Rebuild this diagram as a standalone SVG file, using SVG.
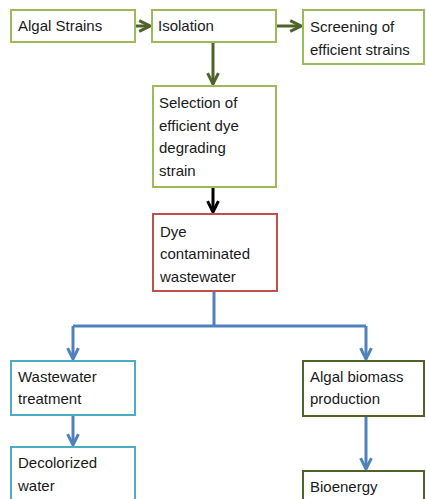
<svg xmlns="http://www.w3.org/2000/svg" width="426" height="499" viewBox="0 0 426 499">
<defs>
<style>
.box{fill:#fff;stroke-width:2}
.g{stroke:#9BBB59}
.r{stroke:#C0504D}
.c{stroke:#4BACC6}
.o{stroke:#4F6228}
text{font-family:"Liberation Sans",Arial,sans-serif;font-size:15px;fill:#1a1a1a}
.ln{fill:none;stroke-width:3}
</style>
<marker id="ag" viewBox="0 0 10 10" refX="9" refY="5" markerWidth="4.5" markerHeight="4.5" orient="auto" markerUnits="strokeWidth"><path d="M1,1 L9,5 L1,9" fill="none" stroke="#4F6228" stroke-width="2.2"/></marker>
<marker id="ak" viewBox="0 0 10 10" refX="9" refY="5" markerWidth="4.5" markerHeight="4.5" orient="auto" markerUnits="strokeWidth"><path d="M1,1 L9,5 L1,9" fill="none" stroke="#000" stroke-width="2.2"/></marker>
<marker id="ab" viewBox="0 0 10 10" refX="9" refY="5" markerWidth="4.5" markerHeight="4.5" orient="auto" markerUnits="strokeWidth"><path d="M1,1 L9,5 L1,9" fill="none" stroke="#4F81BD" stroke-width="2.2"/></marker>
</defs>
<rect width="426" height="499" fill="#fff"/>
<g id="connectors">
<line class="ln" x1="136" y1="26" x2="150" y2="26" stroke="#4F6228" marker-end="url(#ag)"/>
<line class="ln" x1="277" y1="26" x2="301" y2="26" stroke="#4F6228" marker-end="url(#ag)"/>
<line class="ln" x1="213" y1="43" x2="213" y2="84" stroke="#4F6228" marker-end="url(#ag)"/>
<line class="ln" x1="213" y1="188" x2="213" y2="212" stroke="#000" marker-end="url(#ak)"/>
<path class="ln" d="M214,291 V326 M73,326 H366" stroke="#4F81BD"/>
<line class="ln" x1="73" y1="326" x2="73" y2="359" stroke="#4F81BD" marker-end="url(#ab)"/>
<line class="ln" x1="366" y1="326" x2="366" y2="359" stroke="#4F81BD" marker-end="url(#ab)"/>
<line class="ln" x1="73" y1="416" x2="73" y2="445" stroke="#4F81BD" marker-end="url(#ab)"/>
<line class="ln" x1="366" y1="417" x2="366" y2="469" stroke="#4F81BD" marker-end="url(#ab)"/>
</g>
<g id="algal-strains"><rect class="box g" x="11" y="10" width="124" height="32"/><text x="18" y="31">Algal Strains</text></g>
<g id="isolation"><rect class="box g" x="152" y="10" width="124" height="32"/><text x="158" y="31">Isolation</text></g>
<g id="screening"><rect class="box g" x="303" y="10" width="121" height="54"/><text x="310" y="32">Screening of</text><text x="310" y="55">efficient strains</text></g>
<g id="selection"><rect class="box g" x="153" y="86" width="123" height="101"/><text x="159" y="108">Selection of</text><text x="159" y="131">efficient dye</text><text x="159" y="153">degrading</text><text x="159" y="176">strain</text></g>
<g id="dye"><rect class="box r" x="153" y="214" width="124" height="77"/><text x="160" y="237">Dye</text><text x="160" y="259">contaminated</text><text x="160" y="282">wastewater</text></g>
<g id="wastewater-treatment"><rect class="box c" x="11" y="361" width="124" height="54"/><text x="18" y="382">Wastewater</text><text x="18" y="404">treatment</text></g>
<g id="decolorized"><rect class="box c" x="11" y="447" width="124" height="60"/><text x="18" y="468">Decolorized</text><text x="18" y="491">water</text></g>
<g id="algal-biomass"><rect class="box o" x="303" y="361" width="121" height="55"/><text x="310" y="382">Algal biomass</text><text x="310" y="404">production</text></g>
<g id="bioenergy"><rect class="box o" x="303" y="471" width="121" height="40"/><text x="310" y="492">Bioenergy</text></g>
</svg>
